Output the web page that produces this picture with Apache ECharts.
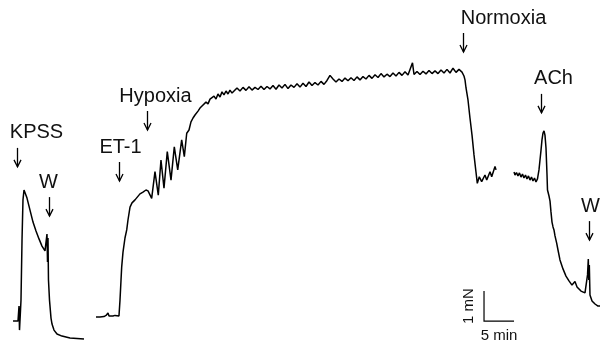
<!DOCTYPE html>
<html>
<head>
<meta charset="utf-8">
<script src="https://cdn.jsdelivr.net/npm/echarts@6/dist/echarts.min.js"></script>
<style>
  html, body { margin: 0; padding: 0; background: #fff; }
  #chart { width: 600px; height: 346px; }
</style>
</head>
<body>
<div id="chart"></div>
<script>
// time in min, tension in mN (scale bar = 5 min / 1 mN)
const kpssTrace = [
  [2.17, 0.83], [3.0, 0.83], [3.17, 1.33], [3.25, 0.53], [3.5, 1.53], [3.67, 3.53],
  [3.83, 4.87], [4.0, 5.2], [4.17, 5.2], [4.5, 4.93], [5.0, 4.53], [5.5, 4.13],
  [6.0, 3.83], [6.5, 3.57], [7.0, 3.33], [7.5, 3.17], [7.67, 3.13], [7.83, 3.73],
  [7.92, 2.8], [8.0, 3.6], [8.08, 2.2], [8.25, 1.53], [8.5, 0.93], [8.67, 0.73],
  [9.0, 0.53], [9.5, 0.4], [10.33, 0.33], [11.67, 0.27], [14.0, 0.23]
];

const hypoxiaTrace = [
  [16.0, 0.97], [16.33, 1.0], [16.67, 0.97], [17.0, 1.03], [17.33, 0.98], [17.67, 1.02],
  [18.0, 1.1], [18.17, 1.0], [18.5, 1.03], [18.83, 1.0], [19.17, 1.02], [19.5, 1.0],
  [19.83, 1.0], [20.0, 1.53], [20.17, 2.2], [20.28, 2.63], [20.5, 3.13], [20.83, 3.6],
  [21.12, 3.87], [21.33, 4.2], [21.67, 4.63], [22.0, 4.77], [22.5, 4.87], [22.83, 4.9],
  [23.33, 5.07], [23.83, 5.13], [24.33, 5.2], [24.67, 5.17], [25.0, 5.23],
  [25.28, 4.92], [25.83, 5.81], [26.38, 5.03], [26.83, 6.2], [27.33, 5.26], [27.88, 6.48],
  [28.5, 5.53], [29.05, 6.64], [29.62, 5.87], [30.28, 6.87], [30.72, 6.31], [31.12, 7.09],
  [31.5, 7.2], [31.83, 7.47], [32.17, 7.6], [32.5, 7.7], [33.0, 7.83], [33.33, 7.93],
  [33.67, 8.0], [34.0, 7.97], [34.33, 8.13], [34.67, 8.07], [35.0, 8.23], [35.33, 8.17],
  [35.67, 8.33], [36.0, 8.23], [36.33, 8.4], [36.67, 8.3], [37.0, 8.47], [37.33, 8.37],
  [37.67, 8.5], [38.0, 8.4], [38.33, 8.53], [38.67, 8.43],
  [39.0, 8.47], [39.5, 8.6], [40.0, 8.5], [40.5, 8.62], [41.0, 8.52], [41.5, 8.64],
  [42.0, 8.53], [42.5, 8.62], [43.0, 8.55], [43.5, 8.66], [44.0, 8.55], [44.5, 8.65],
  [45.0, 8.57], [45.5, 8.68], [46.0, 8.56], [46.5, 8.7], [47.0, 8.6], [47.5, 8.72],
  [48.0, 8.58], [48.5, 8.7], [49.0, 8.62], [49.5, 8.74], [50.0, 8.63], [50.5, 8.76],
  [51.0, 8.65], [51.5, 8.8], [52.0, 8.68], [52.5, 8.78], [53.0, 8.7], [53.5, 8.82],
  [54.0, 8.72], [54.5, 8.85], [55.0, 9.02], [55.5, 8.9], [56.0, 8.8], [56.5, 8.9],
  [57.0, 8.82], [57.5, 8.93], [58.0, 8.84], [58.5, 8.94], [59.0, 8.85], [59.5, 8.97],
  [60.0, 8.87], [60.5, 8.98], [61.0, 8.9], [61.5, 9.02], [62.0, 8.92], [62.5, 9.04],
  [63.0, 8.95], [63.5, 9.08], [64.0, 8.97], [64.5, 9.06], [65.0, 8.98], [65.5, 9.1],
  [66.0, 9.0], [66.5, 9.12], [67.0, 9.02], [67.5, 9.14], [68.0, 9.03], [68.75, 9.44],
  [69.0, 9.05], [69.5, 9.15], [70.0, 9.05], [70.5, 9.16], [71.0, 9.07], [71.5, 9.18],
  [72.0, 9.08], [72.5, 9.17], [73.0, 9.08], [73.5, 9.2], [74.0, 9.1], [74.5, 9.22],
  [75.0, 9.1], [75.5, 9.26], [76.0, 9.12], [76.5, 9.22], [77.0, 9.13],
  [77.33, 9.0], [77.5, 8.87], [77.67, 8.6], [78.0, 8.2], [78.33, 7.6], [78.67, 7.03],
  [79.0, 6.37], [79.33, 5.8], [79.55, 5.42], [79.88, 5.64], [80.28, 5.48], [80.83, 5.7],
  [81.12, 5.53], [81.67, 5.81], [81.95, 5.64], [82.5, 5.98], [82.67, 5.87]
];

const achTrace = [
  [85.67, 5.8], [85.83, 5.7], [86.08, 5.78], [86.33, 5.67], [86.58, 5.77], [86.83, 5.63],
  [87.08, 5.73], [87.33, 5.6], [87.58, 5.7], [87.83, 5.57], [88.08, 5.67], [88.33, 5.53],
  [88.58, 5.63], [88.83, 5.5], [89.08, 5.6], [89.33, 5.47], [89.58, 5.57], [89.83, 5.87],
  [90.0, 6.2], [90.17, 6.53], [90.33, 6.87], [90.5, 7.1], [90.67, 7.17], [90.83, 7.03],
  [91.0, 6.6], [91.17, 5.7], [91.25, 5.2], [91.5, 5.0], [91.67, 4.83], [91.83, 4.47],
  [92.0, 4.13], [92.17, 3.97], [92.33, 3.87], [92.5, 3.67], [92.78, 3.43], [93.0, 3.2],
  [93.33, 2.87], [93.83, 2.57], [94.33, 2.33], [94.83, 2.17], [95.33, 2.03], [95.83, 2.15],
  [96.17, 1.97], [96.83, 1.83], [97.5, 1.77], [97.75, 1.83], [97.92, 2.37], [98.05, 2.9],
  [98.13, 2.2], [98.22, 2.7], [98.33, 1.7], [98.67, 1.5], [99.17, 1.4], [99.67, 1.33],
  [100.0, 1.33]
];

// drug additions: label, time (min), tension at arrow tip (mN)
const eventLabels = ['KPSS', 'W', 'ET-1', 'Hypoxia', 'Normoxia', 'ACh', 'W'];
const eventTimes = [2.89, 8.17, 19.83, 24.5, 77.17, 90.17, 98.17];
const eventTension = [5.97, 4.33, 5.5, 7.2, 9.8, 7.77, 3.53];
// horizontal shift of each label relative to its arrow (px)
const labelShift = [19, -1, 1, 8, 40, 12, 1];

// scale bar: corner time, corner tension, length in min, length in mN
const scaleBar = [[80.67, 0.83, 5, 1]];
const scaleText = ['5 min', '1 mN'];

const FONT = '"Liberation Sans", Arial, sans-serif';

const traceSeries = (data) => ({
  type: 'line',
  data: data,
  showSymbol: false,
  silent: true,
  lineStyle: { color: '#000', width: 1.5 },
  animation: false
});

let option = {
  backgroundColor: '#fff',
  animation: false,
  grid: { left: 0, right: 0, top: 0, bottom: 0 },
  xAxis: { type: 'value', min: 0, max: 100, show: false },
  yAxis: { type: 'value', min: 0, max: 11.533, show: false },
  series: [
    traceSeries(kpssTrace),
    traceSeries(hypoxiaTrace),
    traceSeries(achTrace),
    {
      type: 'custom',
      clip: false,
      silent: true,
      data: eventTimes.map((t, i) => [t, eventTension[i], i]),
      renderItem: (params, api) => {
        const i = api.value(2);
        const p = api.coord([api.value(0), api.value(1)]);
        const x = Math.round(p[0]) + 0.5;
        const y = p[1];
        return {
          type: 'group',
          children: [
            {
              type: 'line',
              shape: { x1: x, y1: y - 19, x2: x, y2: y },
              style: { stroke: '#000', lineWidth: 1.3 }
            },
            {
              type: 'polyline',
              shape: { points: [[x - 3.5, y - 7], [x, y], [x + 3.5, y - 7]] },
              style: { stroke: '#000', lineWidth: 1.3, fill: null }
            },
            {
              type: 'text',
              x: x + labelShift[i],
              y: y - 34,
              style: {
                text: eventLabels[i],
                font: '20px ' + FONT,
                fill: '#111',
                align: 'center',
                verticalAlign: 'middle'
              }
            }
          ]
        };
      }
    },
    {
      type: 'custom',
      clip: false,
      silent: true,
      data: scaleBar,
      renderItem: (params, api) => {
        const t0 = api.value(0), f0 = api.value(1);
        const c = api.coord([t0, f0]);
        const tx = api.coord([t0 + api.value(2), f0]);
        const fy = api.coord([t0, f0 + api.value(3)]);
        return {
          type: 'group',
          children: [
            {
              type: 'polyline',
              shape: { points: [[fy[0], fy[1]], [c[0], c[1]], [tx[0], tx[1]]] },
              style: { stroke: '#000', lineWidth: 1.2, fill: null }
            },
            {
              type: 'text',
              x: (c[0] + tx[0]) / 2,
              y: c[1] + 15,
              style: { text: scaleText[0], font: '15px ' + FONT, fill: '#111', align: 'center', verticalAlign: 'middle' }
            },
            {
              type: 'text',
              x: c[0] - 15,
              y: (c[1] + fy[1]) / 2,
              rotation: Math.PI / 2,
              style: { text: scaleText[1], font: '15px ' + FONT, fill: '#111', align: 'center', verticalAlign: 'middle' }
            }
          ]
        };
      }
    }
  ]
};

const chartInit = () => {
  let myChart = echarts.init(document.getElementById('chart'), null, { renderer: 'canvas' });
  option && myChart.setOption(option);
};
chartInit();
</script>
</body>
</html>
